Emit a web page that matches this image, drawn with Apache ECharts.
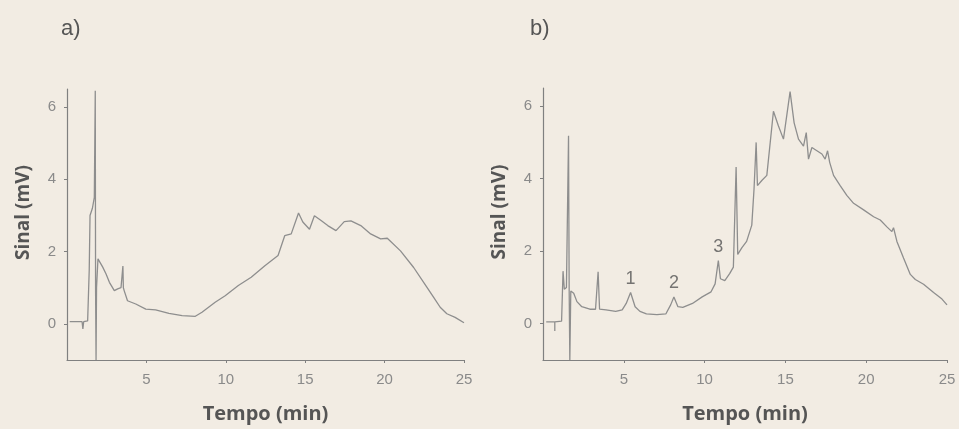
<!DOCTYPE html>
<html>
<head>
<meta charset="utf-8">
<script src="https://cdn.jsdelivr.net/npm/echarts@6/dist/echarts.min.js"></script>
<style>
html,body{margin:0;padding:0;background:#f2ece3;}
#c{width:959px;height:429px;}
</style>
</head>
<body>
<div id="c"></div>
<script>
// ---- data ----
var timesA  = [0.17,0.95,1.0,1.0,1.05,1.3,1.4,1.45,1.6,1.72,1.78,1.8,1.83,1.86,1.95,2.04,2.25,2.46,2.67,2.98,3.19,3.4,3.52,3.55,3.6,3.81,4.33,4.96,5.58,6.42,7.25,8.08,8.5,9.33,9.96,10.79,11.6,12.46,13.29,13.71,14.12,14.58,14.85,15.27,15.58,16.0,16.42,16.94,17.46,17.88,18.5,19.12,19.75,20.17,21.0,21.83,22.67,23.08,23.5,23.92,24.44,25.0];
var signalA = [0.06,0.06,0.06,-0.14,0.06,0.08,1.5,3.0,3.2,3.5,6.45,0.9,-1.0,1.0,1.8,1.75,1.57,1.38,1.15,0.92,0.97,1.0,1.6,1.0,0.92,0.64,0.55,0.41,0.39,0.29,0.23,0.21,0.32,0.6,0.78,1.06,1.29,1.61,1.89,2.44,2.49,3.07,2.82,2.62,2.99,2.86,2.72,2.58,2.83,2.85,2.72,2.49,2.35,2.37,2.02,1.56,1.01,0.74,0.46,0.28,0.18,0.03];

var timesB  = [0.2,0.73,0.73,0.73,1.15,1.24,1.32,1.45,1.58,1.62,1.66,1.72,1.8,1.9,2.1,2.4,2.9,3.25,3.41,3.5,3.9,4.5,4.9,5.15,5.42,5.7,6.0,6.4,7.05,7.6,7.9,8.1,8.35,8.65,9.25,9.85,10.4,10.65,10.85,10.98,11.25,11.55,11.78,11.95,12.05,12.3,12.6,12.92,13.06,13.19,13.27,13.54,13.85,14.26,14.57,14.88,15.29,15.54,15.81,16.12,16.29,16.43,16.64,16.95,17.26,17.46,17.61,17.74,17.98,18.39,18.8,19.22,19.84,20.46,20.87,21.28,21.59,21.69,21.9,22.31,22.73,23.04,23.55,24.17,24.69,25.0];
var signalB = [0.05,0.05,-0.2,0.05,0.07,1.45,0.95,1.0,5.18,0.9,-1.0,0.9,0.93,0.84,0.61,0.47,0.4,0.4,1.43,0.4,0.38,0.34,0.38,0.56,0.86,0.47,0.34,0.27,0.25,0.27,0.52,0.74,0.47,0.45,0.56,0.74,0.88,1.1,1.74,1.24,1.19,1.38,1.56,4.32,1.91,2.09,2.27,2.72,3.72,5.0,3.81,3.95,4.09,5.86,5.45,5.09,6.4,5.54,5.09,4.9,5.27,4.54,4.86,4.77,4.68,4.54,4.77,4.45,4.09,3.81,3.54,3.32,3.14,2.95,2.86,2.67,2.54,2.65,2.27,1.81,1.36,1.22,1.09,0.86,0.68,0.52];

var peakNames = ['1','2','3'];
var peakTimes = [5.42,8.1,10.85];
var peakTops  = [0.86,0.74,1.74];

var xTicks = [5,10,15,20,25];
var yTicks = [0,2,4,6];
var panelNames = ['a)','b)'];
var xName = 'Tempo (min)';
var yName = 'Sinal (mV)';

function zip(a,b){ return a.map(function(v,i){ return [v,b[i]]; }); }

var lineColor = '#8e8e8e';
var axisColor = '#808080';
var textDark = '#555555';

function xAx(idx){
  return {
    type:'value', gridIndex:idx, min:0, max:25,
    name:xName, nameLocation:'middle', nameGap:44,
    nameTextStyle:{fontFamily:'Open Sans', fontWeight:'bold', fontSize:20, color:textDark},
    axisLine:{show:true, onZero:false, lineStyle:{color:axisColor, width:1.2}},
    axisTick:{show:true, length:3, customValues:xTicks, lineStyle:{color:axisColor}},
    axisLabel:{customValues:xTicks, fontFamily:'Liberation Sans', fontSize:15, color:'#8a8a8a', margin:12},
    splitLine:{show:false}
  };
}
function yAx(idx){
  return {
    type:'value', gridIndex:idx, min:-1, max:6.5,
    name:yName, nameLocation:'middle', nameGap:34, nameRotate:90,
    nameTextStyle:{fontFamily:'Open Sans', fontWeight:'bold', fontSize:19, color:textDark, padding:[0,0,0,24]},
    axisLine:{show:true, onZero:false, lineStyle:{color:axisColor, width:1.2}},
    axisTick:{show:true, length:3, customValues:yTicks, lineStyle:{color:axisColor}},
    axisLabel:{customValues:yTicks, fontFamily:'Liberation Sans', fontSize:15, color:'#8a8a8a', margin:11},
    splitLine:{show:false}
  };
}

var chart = echarts.init(document.getElementById('c'), null, {renderer:'canvas'});
chart.setOption({
  backgroundColor:'#f2ece3',
  animation:false,
  title:[
    {text:panelNames[0], left:56, top:13, textStyle:{fontFamily:'Liberation Sans', fontWeight:'normal', fontSize:22, color:textDark}},
    {text:panelNames[1], left:525, top:13, textStyle:{fontFamily:'Liberation Sans', fontWeight:'normal', fontSize:22, color:textDark}}
  ],
  grid:[
    {left:67, top:89, width:397, height:271},
    {left:543, top:88, width:404, height:275}
  ],
  xAxis:[xAx(0), xAx(1)],
  yAxis:[yAx(0), yAx(1)],
  series:[
    {type:'line', xAxisIndex:0, yAxisIndex:0, data:zip(timesA,signalA), showSymbol:false,
     lineStyle:{color:lineColor, width:1.3}, clip:true},
    {type:'line', xAxisIndex:1, yAxisIndex:1, data:zip(timesB,signalB), showSymbol:false,
     lineStyle:{color:lineColor, width:1.3}, clip:true},
    {type:'scatter', xAxisIndex:1, yAxisIndex:1, symbolSize:0,
     data:peakTimes.map(function(t,i){ return {value:[t,peakTops[i]], name:peakNames[i]}; }),
     label:{show:true, position:'top', distance:5, formatter:'{b}', fontFamily:'Liberation Sans', fontSize:18, color:textDark}}
  ]
});
</script>
</body>
</html>
